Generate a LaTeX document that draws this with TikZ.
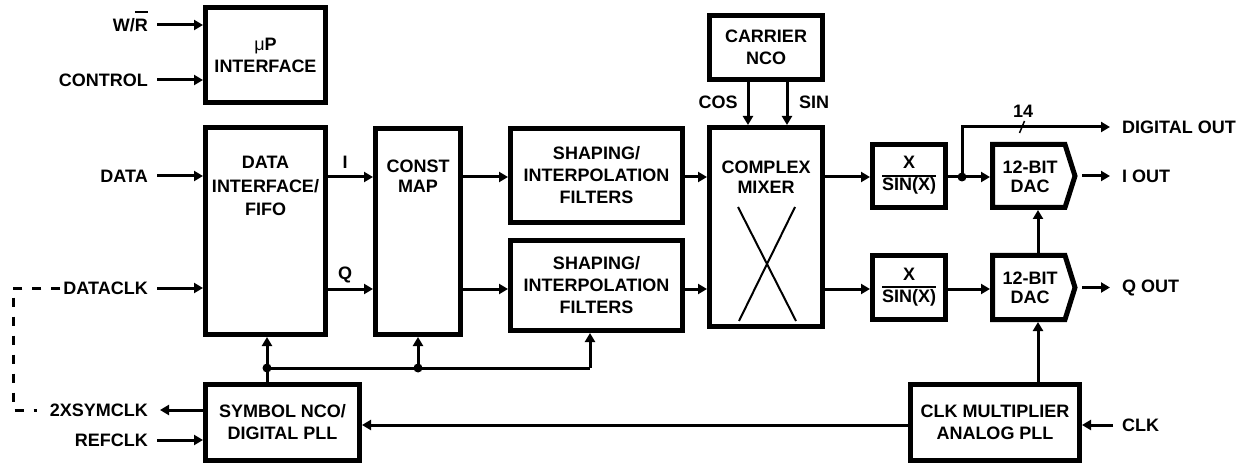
\documentclass[tikz,border=0pt]{standalone}
\usepackage{fontspec}
\setmainfont{Liberation Sans}
\usetikzlibrary{arrows.meta,calc}
\newcommand{\barR}{\leavevmode\setbox0=\hbox{R}\rlap{\rule[18pt]{\wd0}{2pt}}\box0}
\newcommand{\xsinfrac}{{\fontsize{18}{20}\selectfont\setlength{\arrayrulewidth}{2pt}\begin{tabular}{@{}c@{}}X\\\hline SIN(X)\end{tabular}}}
\begin{document}
\begin{tikzpicture}[x=1pt,y=-1pt,
  every node/.style={font=\fontsize{18}{22}\selectfont\bfseries, align=center, inner sep=0pt},
  blk/.style={draw, line width=5pt},
  wire/.style={line width=3pt},
  arr/.style={wire, -{Triangle[length=9pt,width=10pt]}},
  jdot/.style={circle, fill, minimum size=9pt, inner sep=0pt},
  lbl/.style={anchor=east},
  rlbl/.style={anchor=west},
]
\useasboundingbox (0,0) rectangle (1248,465);

% blocks
\node[blk, minimum width=120pt, minimum height=95pt] (up) at (265.5,55) {{\mdseries μ}P\\INTERFACE};
\node[blk, minimum width=120pt, minimum height=207pt] (dif) at (265.5,231) {};
\node[font=\fontsize{18}{23.5}\selectfont\bfseries] (difT) at (265.5,186) {DATA\\INTERFACE/\\FIFO};
\node[blk, minimum width=85pt, minimum height=206pt] (cmap) at (418,231.5) {};
\node[font=\fontsize{18}{20}\selectfont\bfseries] (cmapT) at (418,176) {CONST\\MAP};
\node[blk, minimum width=172pt, minimum height=94pt] (f1) at (596.5,175.5) {SHAPING/\\INTERPOLATION\\FILTERS};
\node[blk, minimum width=172pt, minimum height=90pt] (f2) at (596.5,285.5) {SHAPING/\\INTERPOLATION\\FILTERS};
\node[blk, minimum width=113pt, minimum height=64pt] (nco) at (766,47.5) {CARRIER\\NCO};
\node[blk, minimum width=113pt, minimum height=199pt] (mix) at (766,227) {};
\node[font=\fontsize{18}{20}\selectfont\bfseries] (mixT) at (766,177) {COMPLEX\\MIXER};
\draw[line width=2pt] (738,207) -- (796,321) (795,207) -- (739,321);
\node[blk, minimum width=73pt, minimum height=63pt] (xs1) at (909,176) {\xsinfrac};
\node[blk, minimum width=73pt, minimum height=64pt] (xs2) at (909,287.5) {\xsinfrac};

% DACs
\node[minimum width=92pt, minimum height=68pt, outer sep=0pt] (dac1) at (1036,176) {};
\node[minimum width=92pt, minimum height=69pt, outer sep=0pt] (dac2) at (1036,287.5) {};
\foreach \d in {dac1,dac2}{
  \draw[blk, line join=miter] ([shift={(2.5,2.5)}]\d.north west) -- ([shift={(-17,2.5)}]\d.north east)
    -- ([shift={(-7,0)}]\d.east) -- ([shift={(-17,-2.5)}]\d.south east)
    -- ([shift={(2.5,-2.5)}]\d.south west) -- cycle;
}
\node[font=\fontsize{18}{19}\selectfont\bfseries] (dac1T) at (1030,177) {12-BIT\\DAC};
\node[font=\fontsize{18}{19}\selectfont\bfseries] (dac2T) at (1030,288) {12-BIT\\DAC};

\node[blk, minimum width=154pt, minimum height=76pt] (sym) at (282.5,422.5) {SYMBOL NCO/\\DIGITAL PLL};
\node[blk, minimum width=169pt, minimum height=76pt] (clkm) at (995,422.5) {CLK MULTIPLIER\\ANALOG PLL};

% left labels
\node[anchor=base east] (wr) at (148,31.5) {W/\barR};
\node[lbl] (ctl) at (148,80) {CONTROL};
\node[lbl] (data) at (148,176) {DATA};
\node[lbl] (dclk) at (148,288) {DATACLK};
\node[lbl] (sx) at (148,410) {2XSYMCLK};
\node[lbl] (ref) at (148,440) {REFCLK};

% right labels
\node[rlbl] (dig) at (1122,127) {DIGITAL OUT};
\node[rlbl] (iout) at (1122,176) {I OUT};
\node[rlbl] (qout) at (1122,287.5) {Q OUT};
\node[rlbl] (clk) at (1122,425) {CLK};

% small labels
\node (il) at (345,162) {I};
\node (ql) at (345,275) {Q};
\node (cosl) at (718,102) {COS};
\node (sinl) at (814,102) {SIN};
\node (n14) at (1023,111) {14};

% helper coordinates
\coordinate (rowW) at (0,25);
\coordinate (rowI) at (0,177);
\coordinate (rowQ) at (0,289);
\coordinate (rowC) at (0,425);
\coordinate (cosx) at (748,0);
\coordinate (sinx) at (787,0);
\coordinate (dacx) at (1038,0);
\coordinate (busR) at (590,368);
\coordinate (dc1) at (13,288);

\node[jdot] (j1) at (267,368) {};
\node[jdot] (j2) at (418,368) {};
\node[jdot] (j3) at (962,177) {};

% inputs on the left
\draw[arr] ([xshift=9pt]wr.east |- rowW) -- (up.west |- rowW);
\draw[arr] ([xshift=9pt]ctl.east) -- (ctl -| up.west);
\draw[arr] ([xshift=9pt]data.east) -- (data -| dif.west);
\draw[arr] ([xshift=9pt]dclk.east) -- (dclk -| dif.west);
\draw[arr] (sx -| sym.west) -- ([xshift=12pt]sx.east);
\draw[arr] ([xshift=9pt]ref.east) -- (ref -| sym.west);
\draw[wire, dash pattern=on 9pt off 10pt] ([xshift=-3pt]dclk.west) -- (dc1) -- (dc1 |- sx) -- ([xshift=-13pt]sx.west);

% I / Q path
\draw[arr] (dif.east |- rowI) -- (cmap.west |- rowI);
\draw[arr] (dif.east |- rowQ) -- (cmap.west |- rowQ);
\draw[arr] (cmap.east |- rowI) -- (f1.west |- rowI);
\draw[arr] (cmap.east |- rowQ) -- (f2.west |- rowQ);
\draw[arr] (f1.east |- rowI) -- (mix.west |- rowI);
\draw[arr] (f2.east |- rowQ) -- (mix.west |- rowQ);
\draw[arr] (mix.east |- rowI) -- (xs1.west |- rowI);
\draw[arr] (mix.east |- rowQ) -- (xs2.west |- rowQ);
\draw[arr] (xs1.east |- rowI) -- (dac1.west |- rowI);
\draw[arr] (xs2.east |- rowQ) -- (dac2.west |- rowQ);
\draw[arr] (dac1.east) -- ([xshift=-12pt]iout.west);
\draw[arr] (dac2.east) -- ([xshift=-12pt]qout.west);
\draw[arr] (j3.center) |- ([xshift=-12pt]dig.west);
\draw[line width=1.5pt] (1019.5,133) -- (1024.5,121);

% carrier NCO
\draw[arr] (nco.south -| cosx) -- (mix.north -| cosx);
\draw[arr] (nco.south -| sinx) -- (mix.north -| sinx);

% clocks
\draw[arr] ([xshift=-9pt]clk.west) -- (clk -| clkm.east);
\draw[arr] (clkm.west |- rowC) -- (sym.east |- rowC);
\draw[arr] (clkm.north -| dacx) -- (dac2.south -| dacx);
\draw[arr] (dac2.north -| dacx) -- (dac1.south -| dacx);
\draw[arr] (sym.north -| j1) -- (dif.south -| j1);
\draw[wire] (j1.center) -- (j2.center) -- (busR);
\draw[arr] (j2.center) -- (cmap.south -| j2);
\draw[arr] (busR) -- (f2.south -| busR);
\end{tikzpicture}
\end{document}
